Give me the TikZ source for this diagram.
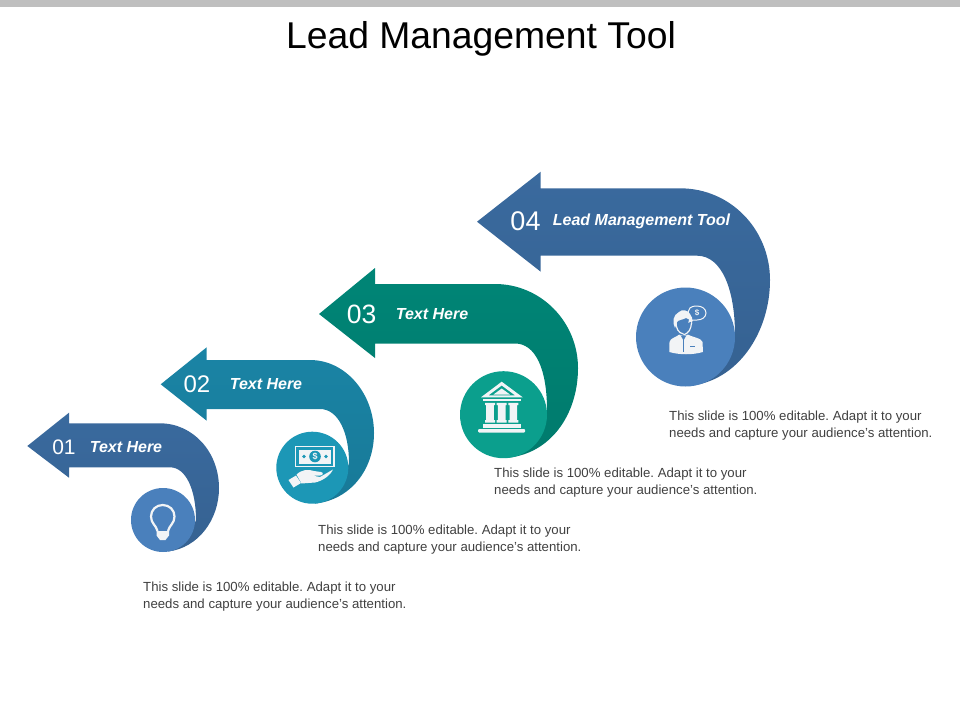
\documentclass[tikz,border=0pt]{standalone}
\usepackage{fontspec}
\setmainfont{Liberation Sans}[Ligatures=ResetAll]
\definecolor{blueArrow}{HTML}{3A6A9E}
\definecolor{blueDisc}{HTML}{4A80BC}
\definecolor{tealArrow}{HTML}{1A84A5}
\definecolor{tealDisc}{HTML}{1C97B6}
\definecolor{greenArrow}{HTML}{008576}
\definecolor{greenDisc}{HTML}{0B9F8D}
\definecolor{bodyGrey}{HTML}{404040}
\definecolor{barGrey}{HTML}{BFBFBF}
\definecolor{iconWhite}{HTML}{F2F4F6}
\tikzset{
  bent/.style={draw=none,top color=#1,middle color=#1,bottom color=#1!92!black},
  disc/.style={circle,inner sep=0pt,outer sep=0pt,draw=none},
  numlabel/.style={text=white,inner sep=0pt},
  headlabel/.style={text=white,inner sep=0pt,font=\fontsize{16}{18}\selectfont\bfseries\itshape},
  bodylabel/.style={text=bodyGrey,inner sep=0pt,anchor=north west,align=left,font=\fontsize{13.2}{16.5}\selectfont\frenchspacing},
  icon/.style={fill=iconWhite,draw=none},
  iconline/.style={draw=iconWhite,fill=none}
}
\begin{document}
\begin{tikzpicture}[x=1pt,y=-1pt]
\useasboundingbox (0,0) rectangle (960,720);
\fill[barGrey] (0,0) rectangle (960,7);
\node[inner sep=0pt,font=\fontsize{37.3}{40}\selectfont] (title) at (481,38.5) {Lead Management Tool};

% arrows
\path[bent=blueArrow] (27.3,446) -- (69,412.7) -- (69,423.3) -- (160,423.3)
  .. controls (193,423.3) and (219,452) .. (219,488)
  .. controls (219,520) and (198,548) .. (168,551.5)
  -- (190,535) -- (196,520)
  .. controls (196,490) and (186,467.3) .. (170,467.3)
  -- (69,467.3) -- (69,477.7) -- cycle;
\path[bent=tealArrow] (160.7,384.3) -- (206.7,347.3) -- (206.7,360) -- (310,360)
  .. controls (346,360) and (374,394) .. (374,433)
  .. controls (374,470) and (350,500) .. (315,503.6)
  -- (340,490) -- (349,463)
  .. controls (349,432) and (338,409) .. (320,409)
  -- (206.7,409) -- (206.7,420.7) -- cycle;
\path[bent=greenArrow] (319,314) -- (375,268) -- (375,284) -- (495,284)
  .. controls (541,284) and (578,322) .. (578,368)
  .. controls (578,415) and (550,455) .. (505,458)
  -- (535,440) -- (547,410)
  .. controls (547,368) and (535,343.5) .. (515,343.5)
  -- (375,343.5) -- (375,358) -- cycle;
\path[bent=blueArrow] (477,221.7) -- (540.7,171.7) -- (540.7,188.3) -- (680,188.3)
  .. controls (731,188.3) and (770,230) .. (770,280)
  .. controls (770,332) and (738,382) .. (688,386)
  -- (722,370) -- (735,335)
  .. controls (735,290) and (722,255.7) .. (697,255.7)
  -- (540.7,255.7) -- (540.7,271.7) -- cycle;

% discs
\node[disc,fill=blueDisc,minimum size=64pt] (d1) at (163,520) {};
\node[disc,fill=tealDisc,minimum size=72pt] (d2) at (312.3,467.7) {};
\node[disc,fill=greenDisc,minimum size=87pt] (d3) at (503.5,414.7) {};
\node[disc,fill=blueDisc,minimum size=99pt] (d4) at (685.5,337) {};

% numbers
\node[numlabel,font=\fontsize{21}{24}\selectfont] (n1) at (64,447.5) {01};
\node[numlabel,font=\fontsize{24}{28}\selectfont] (n2) at (197,384.5) {02};
\node[numlabel,font=\fontsize{26.5}{30}\selectfont] (n3) at (361.5,314.5) {03};
\node[numlabel,font=\fontsize{27}{32}\selectfont] (n4) at (525.5,221) {04};

% arrow labels
\node[headlabel] (h1) at (126,447.5) {Text Here};
\node[headlabel] (h2) at (266,384.5) {Text Here};
\node[headlabel] (h3) at (432,314) {Text Here};
\node[headlabel] (h4) at (641.5,221) {Lead Management Tool};

% body text
\node[bodylabel] (b1) at (143,582) {This slide is 100\% editable. Adapt it to your\\needs and capture your audience's attention.};
\node[bodylabel] (b2) at (318,525) {This slide is 100\% editable. Adapt it to your\\needs and capture your audience's attention.};
\node[bodylabel] (b3) at (494,468) {This slide is 100\% editable. Adapt it to your\\needs and capture your audience's attention.};
\node[bodylabel] (b4) at (669,411) {This slide is 100\% editable. Adapt it to your\\needs and capture your audience's attention.};

% icon 1: light bulb
\draw[iconline,line width=2.2pt] (157.5,531) .. controls (156,525) and (151,523.5) .. (151,516.5)
  .. controls (151,510) and (156,505) .. (162.7,505)
  .. controls (169.5,505) and (174.5,510) .. (174.5,516.5)
  .. controls (174.5,523.5) and (169.5,525) .. (168,531);
\fill[icon] (156.5,531) -- (169,531) -- (169,535.5) -- (165.5,540) -- (160,540) -- (156.5,535.5) -- cycle;

% icon 2: money in a hand
\draw[iconline,line width=1.2pt] (295.5,446.5) rectangle (334,466.5);
\fill[icon] (298.5,449.5) rectangle (331,463.5);
\fill[tealDisc] (315,456.5) circle (5.8);
\node[inner sep=0pt,text=iconWhite,font=\fontsize{9}{10}\selectfont\bfseries] (dollar2) at (315,456.5) {\$};
\fill[tealDisc] (304,456.5) circle (1.8) (326,456.5) circle (1.8);
\fill[icon] (288.5,480) -- (296,475.5) -- (301,483) -- (293.5,487.5) -- cycle;
\fill[icon] (296.5,474.5) .. controls (302,469.5) and (308,469) .. (314,471)
  -- (321,472) .. controls (324,472.5) and (323,475.5) .. (320,475.5)
  -- (312,475.5) -- (320,477) -- (333,469.5)
  .. controls (330,476) and (322,481) .. (315,482.5)
  -- (301.5,483.5) -- cycle;

% icon 3: bank
\fill[icon,even odd rule] (501.7,381.7) -- (522.7,397.3) -- (481,397.3) -- cycle
  (501.7,385.5) -- (488.5,395.3) -- (515,395.3) -- cycle;
\fill[icon] (501.7,388.5) -- (510,394.5) -- (493.5,394.5) -- cycle;
\fill[icon] (482.5,399) rectangle (521,401.3);
\fill[icon] (485,402.8) rectangle (495,405) (486.2,405) rectangle (493.8,420) (485,420) rectangle (495,422.5);
\fill[icon] (496.7,402.8) rectangle (506.7,405) (497.9,405) rectangle (505.5,420) (496.7,420) rectangle (506.7,422.5);
\fill[icon] (508.4,402.8) rectangle (518.4,405) (509.6,405) rectangle (517.2,420) (508.4,420) rectangle (518.4,422.5);
\fill[icon] (482.5,424.3) rectangle (521,427.5);
\fill[icon,rounded corners=1pt] (478,429) rectangle (525,432.5);

% icon 4: person with speech bubble
\fill[icon] (669.3,352) -- (669.5,342) .. controls (670,338) and (677,337) .. (680,334)
  -- (687,334) .. controls (691,337) and (702,338) .. (702.5,342) -- (703,352)
  .. controls (692,355) and (680,355) .. (669.3,352) -- cycle;
\fill[blueDisc] (683.5,340.5) -- (686,336) -- (681,336) -- cycle;
\draw[blueDisc,line width=0.8pt] (683.5,340) -- (683.5,352);
\draw[blueDisc,line width=0.8pt] (690,346) -- (695,346);
\fill[blueDisc] (683.5,325) ellipse (8.5 and 11);
\draw[iconline,line width=1.2pt] (683.5,334) .. controls (678,333) and (676,328) .. (676,322);
\draw[iconline,line width=1.2pt] (683.5,335) .. controls (689,333) and (691,329) .. (691.5,323);
\fill[icon] (675,328) .. controls (672,322) and (673,315) .. (679,312)
  .. controls (682,309) and (688,310) .. (690,314)
  .. controls (692,316) and (693,319) .. (692,324)
  .. controls (690,320) and (688,318) .. (686,318)
  .. controls (682,320) and (678,320) .. (677,322)
  .. controls (676.5,324) and (676,326) .. (675,328) -- cycle;
\draw[iconline,line width=1pt] (689,318) .. controls (686,307) and (692,306) .. (697,306)
  .. controls (702,306) and (706,309) .. (706,313)
  .. controls (706,317) and (702,320) .. (697,320)
  -- (693,320) -- (689,322) -- (690,318);
\node[inner sep=0pt,text=iconWhite,font=\fontsize{8}{9}\selectfont\bfseries] (dollar4) at (697,313) {\$};
\end{tikzpicture}
\end{document}
